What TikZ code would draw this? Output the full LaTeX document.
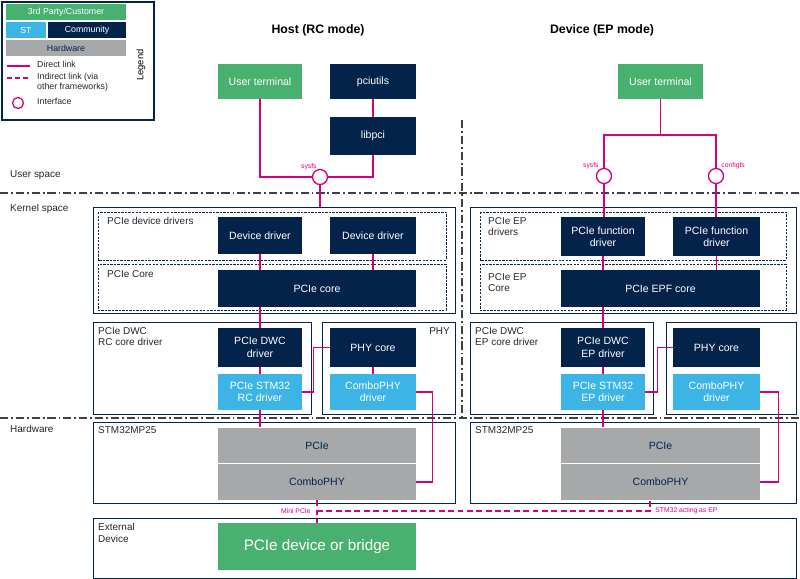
\documentclass[tikz,border=0pt]{standalone}
\usepackage{fontspec}
\setmainfont{Liberation Sans}
\usepackage{tikz}
\definecolor{stnavy}{HTML}{03234B}
\definecolor{stblue}{HTML}{3CB4E6}
\definecolor{stgreen}{HTML}{49B170}
\definecolor{stgray}{HTML}{A7A8AA}
\definecolor{stpink}{HTML}{D6007E}
\tikzstyle{box} = [rectangle, inner sep=1pt, align=center, font=\fontsize{9}{10.5}\selectfont]
\tikzstyle{navy} = [box, fill=stnavy, text=white]
\tikzstyle{cust} = [box, fill=stgreen, text=white]
\tikzstyle{st} = [box, fill=stblue, text=white]
\tikzstyle{hw} = [box, fill=stgray, text=stnavy]
\tikzstyle{link} = [stpink, line width=1.1pt]
\tikzstyle{ilink} = [link, dash pattern=on 5pt off 3pt]
\tikzstyle{iface} = [circle, draw=stpink, line width=1.1pt, fill=white, minimum size=15*0.03cm, inner sep=0pt]
\tikzstyle{frame} = [draw=stnavy, line width=0.8pt]
\tikzstyle{inner} = [draw=stnavy, line width=0.7pt, dash pattern=on 2pt off 1pt]
\tikzstyle{sep} = [draw=black!75, line width=1pt, dash pattern=on 7pt off 2.5pt on 1.5pt off 2.5pt]
\tikzstyle{lbl} = [font=\fontsize{8.5}{10}\selectfont, text=black!85, align=left, anchor=north west, inner sep=0pt]
\tikzstyle{tiny} = [font=\fontsize{5.8}{6}\selectfont, text=stpink, inner sep=1pt]
\tikzstyle{lgd} = [font=\fontsize{7.5}{8.5}\selectfont]
\tikzset{sz/.style 2 args={minimum width=#1*0.03cm, minimum height=#2*0.03cm}}

\begin{document}
\begin{tikzpicture}[x=0.03cm,y=-0.03cm]
    \useasboundingbox (0,0) rectangle (800,578);
    %legend
    \draw[stnavy, line width=1.2pt] (2,2) rectangle (154,120);
    \node[cust, sz={120}{16}, lgd] (lgcust) at (66,12) {3rd Party/Customer};
    \node[st, sz={40}{16}, lgd] (lgst) at (26,30) {ST};
    \node[navy, sz={78}{16}, lgd] (lgcom) at (87,30) {Community};
    \node[hw, sz={120}{16}, lgd] (lghw) at (66,48) {Hardware};
    \node[rotate=90, font=\fontsize{8}{9}\selectfont] (lgtitle) at (141,65) {Legend};
    \coordinate (lga) at (7,66); \coordinate (lgb) at (30,66);
    \draw[link] (lga) -- (lgb);
    \coordinate (lgc) at (7,78); \coordinate (lgd) at (30,78);
    \draw[ilink, dash pattern=on 4pt off 3pt] (lgc) -- (lgd);
    \node[iface, minimum size=11*0.03cm] (lgif) at (18,103) {};
    \node[lbl, lgd] (lgtxt1) at (37,61) {Direct link};
    \node[lbl, lgd] (lgtxt2) at (37,73) {Indirect link (via\\other frameworks)};
    \node[lbl, lgd] (lgtxt3) at (37,98) {Interface};
    %titles and zones
    \node[font=\bfseries\fontsize{10.5}{12}\selectfont] (thost) at (318,30) {Host (RC mode)};
    \node[font=\bfseries\fontsize{10.5}{12}\selectfont] (tdev) at (602,30) {Device (EP mode)};
    \draw[sep] (0,193) -- (800,193);
    \draw[sep] (0,418) -- (800,418);
    \draw[sep] (462,120) -- (462,418);
    \node[lbl] (uspace) at (10,170) {User space};
    \node[lbl] (kspace) at (10,204) {Kernel space};
    \node[lbl] (hspace) at (10,425) {Hardware};
    %frames
    \draw[frame] (93,207) rectangle (455,313);
    \draw[inner] (98,212) rectangle (446,260);
    \draw[inner] (98,264) rectangle (446,310);
    \draw[frame] (93,322) rectangle (311,414);
    \draw[frame] (322,322) rectangle (455,414);
    \draw[frame] (93,422) rectangle (455,503);
    \draw[frame] (93,518) rectangle (796,578);
    \draw[frame] (470,207) rectangle (796,313);
    \draw[inner] (480,212) rectangle (786,260);
    \draw[inner] (480,264) rectangle (786,310);
    \draw[frame] (470,322) rectangle (653,414);
    \draw[frame] (666,322) rectangle (796,414);
    \draw[frame] (470,422) rectangle (796,503);
    \node[lbl] at (107,217) {PCIe device drivers};
    \node[lbl] at (107,270) {PCIe Core};
    \node[lbl] at (98,327) {PCIe DWC\\RC core driver};
    \node[lbl, anchor=north east] at (450,327) {PHY};
    \node[lbl] at (98,426) {STM32MP25};
    \node[lbl] at (98,523) {External\\Device};
    \node[lbl] at (488,217) {PCIe EP\\drivers};
    \node[lbl] at (488,273) {PCIe EP\\Core};
    \node[lbl] at (475,327) {PCIe DWC\\EP core driver};
    \node[lbl] at (475,426) {STM32MP25};
    %host boxes
    \node[cust, sz={84}{35}] (ut1) at (260,81.5) {User terminal};
    \node[navy, sz={86}{35}] (pciutils) at (373,81.5) {pciutils};
    \node[navy, sz={86}{38}] (libpci) at (373,136) {libpci};
    \node[navy, sz={84}{37}] (dd1) at (260,235.5) {Device driver};
    \node[navy, sz={86}{37}] (dd2) at (373,235.5) {Device driver};
    \node[navy, sz={198}{37}] (core) at (317,288.5) {PCIe core};
    \node[navy, sz={84}{39}] (dwc) at (260,347.5) {PCIe DWC\\driver};
    \node[st, sz={84}{36}] (stm) at (260,392) {PCIe STM32\\RC driver};
    \node[navy, sz={86}{39}] (phyc) at (373,347.5) {PHY core};
    \node[st, sz={86}{36}] (cphy) at (373,392) {ComboPHY\\driver};
    \node[hw, sz={198}{36}] (pcie) at (317,445.5) {PCIe};
    \node[hw, sz={198}{36}] (combo) at (317,482) {ComboPHY};
    \draw[white, line width=1.2pt] (pcie.south west) -- (pcie.south east);
    \node[cust, sz={198}{47}, font=\fontsize{13}{15}\selectfont] (dev) at (317,546.5) {PCIe device or bridge};
    %device boxes
    \node[cust, sz={85}{35}] (ut2) at (660.5,81.5) {User terminal};
    \node[navy, sz={84}{39}] (fd1) at (603,236.5) {PCIe function\\driver};
    \node[navy, sz={87}{39}] (fd2) at (716.5,236.5) {PCIe function\\driver};
    \node[navy, sz={199}{37}] (epf) at (660.5,288.5) {PCIe EPF core};
    \node[navy, sz={84}{39}] (dwce) at (603,347.5) {PCIe DWC\\EP driver};
    \node[st, sz={84}{36}] (stme) at (603,392) {PCIe STM32\\EP driver};
    \node[navy, sz={87}{39}] (phyce) at (716.5,347.5) {PHY core};
    \node[st, sz={87}{36}] (cphye) at (716.5,392) {ComboPHY\\driver};
    \node[hw, sz={199}{36}] (pciee) at (660.5,445.5) {PCIe};
    \node[hw, sz={199}{36}] (comboe) at (660.5,482) {ComboPHY};
    \draw[white, line width=1.2pt] (pciee.south west) -- (pciee.south east);
    %host links
    \node[iface] (if1) at (320,177) {};
    \node[tiny, anchor=south east] at (318,171) {sysfs};
    \coordinate (ktop) at (0,207);
    \draw[link] (ut1.south) |- (if1.west);
    \draw[link] (libpci.south) |- (if1.east);
    \draw[link] (pciutils) -- (libpci);
    \draw[link] (if1.south) -- (if1 |- ktop);
    \draw[link] (dd1) -- (dd1 |- core.north);
    \draw[link] (dd2) -- (dd2 |- core.north);
    \draw[link] (dwc |- core.south) -- (dwc);
    \draw[link] (dwc) -- (stm);
    \draw[link] (stm) -- (stm |- pcie.north);
    \draw[link] (stm.east) -- ++(11,0) |- (phyc.west);
    \draw[link] (phyc) -- (cphy);
    \draw[link] (cphy.east) -- ++(16,0) |- (combo.east);
    %device links
    \node[iface] (if2) at (604,176) {};
    \node[iface] (if3) at (716,176) {};
    \node[tiny, anchor=south east] at (600,170) {sysfs};
    \node[tiny, anchor=south west] at (720,170) {configfs};
    \coordinate (split) at (660.5,135);
    \draw[link] (ut2) -- (split);
    \draw[link] (split) -| (if2.north);
    \draw[link] (split) -| (if3.north);
    \draw[link] (if2.south) -- (if2 |- fd1.north);
    \draw[link] (if3.south) -- (if3 |- fd2.north);
    \draw[link] (fd1) -- (fd1 |- epf.north);
    \draw[link] (fd2 |- fd2.south) -- (fd2 |- epf.north);
    \draw[link] (dwce |- epf.south) -- (dwce);
    \draw[link] (dwce) -- (stme);
    \draw[link] (stme) -- (stme |- pciee.north);
    \draw[link] (stme.east) -- ++(12,0) |- (phyce.west);
    \draw[link] (cphye.east) -- ++(18,0) |- (comboe.east);
    %external link
    \coordinate (bend1) at (317,511);
    \coordinate (bend2) at (650,511);
    \draw[ilink] (combo.south) -- (dev.north);
    \draw[ilink] (bend1) -- (bend2) -- (bend2 |- comboe.south);
    \node[tiny, anchor=east] at (312,511) {Mini PCIe};
    \node[tiny, anchor=west] at (654,511) {STM32 acting as EP};
\end{tikzpicture}
\end{document}
